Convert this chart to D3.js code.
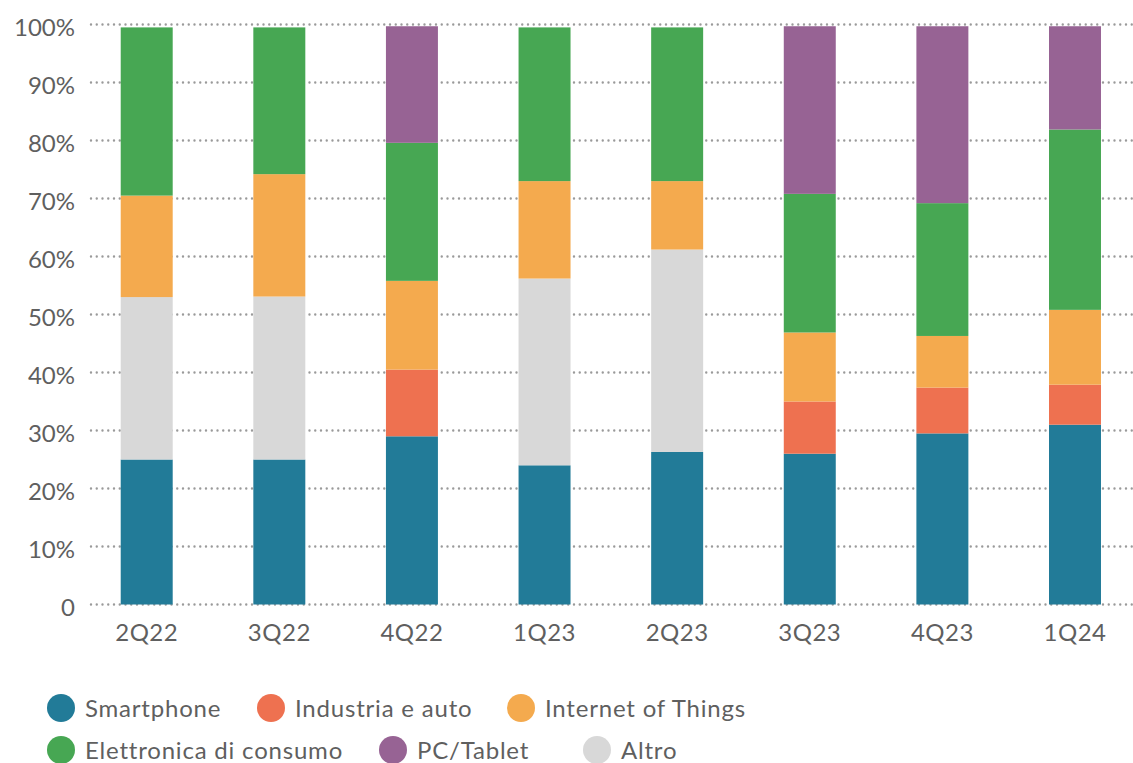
<!DOCTYPE html>
<html>
<head>
<meta charset="utf-8">
<script src="https://cdn.jsdelivr.net/npm/d3@7"></script>
<style>
  html, body { margin: 0; padding: 0; background: #fff; }
  svg { display: block; font-family: Lato, "Open Sans", sans-serif; }
</style>
</head>
<body>
<svg id="chart" width="1133" height="763"></svg>
<script>
// Quarters on the x axis
const quarters = ["2Q22", "3Q22", "4Q22", "1Q23", "2Q23", "3Q23", "4Q23", "1Q24"];

// Share (%) of each segment per quarter
const smartphone  = [25.0, 25.0, 29.0, 24.0, 26.3, 26.0, 29.5, 31.0];
const industria   = [ 0.0,  0.0, 11.5,  0.0,  0.0,  9.0,  7.9,  6.9];
const altro       = [28.0, 28.1,  0.0, 32.2, 34.9,  0.0,  0.0,  0.0];
const iot         = [17.5, 21.1, 15.3, 16.8, 11.8, 11.9,  8.9, 12.9];
const elettronica = [29.0, 25.3, 23.8, 26.5, 26.5, 23.9, 22.9, 31.1];
const pcTablet    = [ 0.0,  0.0, 20.1,  0.0,  0.0, 28.9, 30.5, 17.8];

// Y axis tick values and labels
const yTicks = [0, 10, 20, 30, 40, 50, 60, 70, 80, 90, 100];
const yTickLabels = ["0", "10%", "20%", "30%", "40%", "50%", "60%", "70%", "80%", "90%", "100%"];

// Series in stacking order (bottom to top)
const series = [
  { key: "smartphone",  name: "Smartphone",             values: smartphone,  color: "#227b98" },
  { key: "industria",   name: "Industria e auto",       values: industria,   color: "#ee7150" },
  { key: "altro",       name: "Altro",                  values: altro,       color: "#d8d8d8" },
  { key: "iot",         name: "Internet of Things",     values: iot,         color: "#f4aa4e" },
  { key: "elettronica", name: "Elettronica di consumo", values: elettronica, color: "#47a753" },
  { key: "pc",          name: "PC/Tablet",              values: pcTablet,    color: "#976394" }
];

// Legend layout order (two rows)
const legendRows = [
  ["smartphone", "industria", "iot"],
  ["elettronica", "pc", "altro"]
];

const rows = quarters.map((q, i) => {
  const r = { quarter: q };
  series.forEach(s => r[s.key] = s.values[i]);
  return r;
});

const svg = d3.select("#chart");
const textColor = "#5f5f5f";

const y = d3.scaleLinear().domain([0, 100]).range([604.5, 24.5]);
const pIn = 0.608;
const x = d3.scaleBand().domain(quarters).range([80.4, 1141.3])
  .paddingInner(pIn).paddingOuter(pIn / 2);

// Dotted gridlines
svg.append("g").selectAll("line").data(yTicks).join("line")
  .attr("x1", 91).attr("x2", 1133)
  .attr("y1", d => y(d)).attr("y2", d => y(d))
  .attr("stroke", "#9a9a9a").attr("stroke-width", 2.4)
  .attr("stroke-linecap", "round")
  .attr("stroke-dasharray", "0,5.75");

// Y axis labels
const yAxis = d3.axisLeft(y).tickValues(yTicks)
  .tickFormat((d, i) => yTickLabels[i]).tickSize(0).tickPadding(0);
const gy = svg.append("g").attr("transform", "translate(75,0)").call(yAxis);
gy.select(".domain").remove();
gy.selectAll("text").attr("fill", textColor).style("font-size", "24px")
  .style("font-family", "Lato, sans-serif").attr("dy", "0.46em");

// Stacked bars
const stack = d3.stack().keys(series.map(s => s.key));
const layers = stack(rows);
svg.append("g").selectAll("g").data(layers).join("g")
  .attr("fill", (d, i) => series[i].color)
  .selectAll("rect").data(d => d).join("rect")
  .attr("x", d => x(d.data.quarter))
  .attr("width", x.bandwidth())
  .attr("y", d => y(d[1]))
  .attr("height", d => y(d[0]) - y(d[1]));

// X axis labels
const xAxis = d3.axisBottom(x).tickSize(0).tickPadding(0);
const gx = svg.append("g").attr("transform", "translate(0,641)").call(xAxis);
gx.select(".domain").remove();
gx.selectAll("text").attr("fill", textColor).style("font-size", "24px")
  .style("font-family", "Lato, sans-serif").style("letter-spacing", "0.5px")
  .attr("y", 0).attr("dy", "0");

// Legend
const legendX = [61, 271, 521];
const legendXRow2 = [61, 393, 597];
const legendY = [708, 750];
const byKey = Object.fromEntries(series.map(s => [s.key, s]));
legendRows.forEach((row, ri) => {
  row.forEach((k, ci) => {
    const cx = ri === 0 ? legendX[ci] : legendXRow2[ci];
    const g = svg.append("g").attr("transform", `translate(${cx},${legendY[ri]})`);
    g.append("circle").attr("r", 14).attr("fill", byKey[k].color);
    g.append("text").attr("x", 24).attr("dy", "0.36em")
      .attr("fill", textColor).style("font-size", "24px")
      .style("letter-spacing", "0.8px")
      .text(byKey[k].name);
  });
});
</script>
</body>
</html>
